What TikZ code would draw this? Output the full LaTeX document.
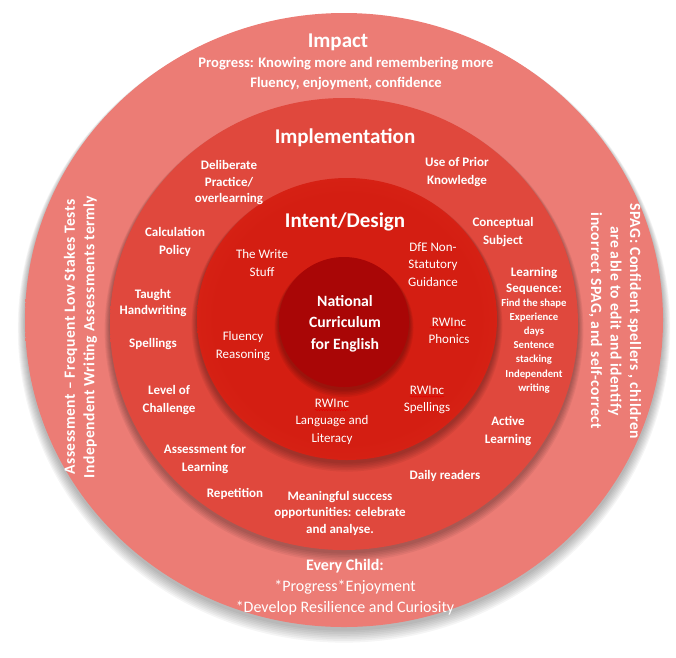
\documentclass[tikz,border=0pt]{standalone}
\usepackage{fontspec}
\setmainfont{Carlito}
\newfontfamily\sidefont[LetterSpace=3]{Carlito}
\usetikzlibrary{calc,decorations.pathmorphing}
\definecolor{outerin}{HTML}{EC7C75}
\definecolor{outerrim}{HTML}{E2706A}
\definecolor{midin}{HTML}{E0483D}
\definecolor{midout}{HTML}{E85E52}
\definecolor{midrim}{HTML}{DC5348}
\definecolor{innin}{HTML}{D41E12}
\definecolor{innout}{HTML}{E0301E}
\definecolor{innrim}{HTML}{D32616}
\definecolor{corein}{HTML}{A90606}
\definecolor{coreout}{HTML}{C81512}
\pgfdeclareradialshading{outershade}{\pgfpoint{0bp}{0bp}}{color(0bp)=(outerin); color(46bp)=(outerin); color(50bp)=(outerrim); color(100bp)=(outerrim)}
\pgfdeclareradialshading{midshade}{\pgfpoint{0bp}{0bp}}{color(0bp)=(midin); color(32bp)=(midin); color(40bp)=(midout); color(47bp)=(midout); color(50bp)=(midrim); color(100bp)=(midrim)}
\pgfdeclareradialshading{innshade}{\pgfpoint{0bp}{0bp}}{color(0bp)=(innin); color(22bp)=(innin); color(42bp)=(innout); color(47bp)=(innout); color(50bp)=(innrim); color(100bp)=(innrim)}
\pgfdeclareradialshading{coreshade}{\pgfpoint{0bp}{-8bp}}{color(0bp)=(corein); color(30bp)=(corein); color(50bp)=(coreout); color(100bp)=(coreout)}
\begin{document}
\begin{tikzpicture}[x=1pt,y=-1pt,
  lbl/.style={text=white, align=center, inner sep=0pt},
  ttl/.style={lbl, font=\fontsize{21}{25}\selectfont\bfseries},
  impl/.style={lbl, font=\fontsize{13}{17.5}\selectfont\bfseries},
  intent/.style={lbl, font=\fontsize{13}{17.5}\selectfont},
  small/.style={lbl, font=\fontsize{10.7}{14.1}\selectfont\bfseries},
  side/.style={lbl, font=\fontsize{15.6}{19.5}\sidefont\bfseries},
  shadow/.style={black, opacity=0.04},
  squig/.style={red!90!black, line width=0.5pt, decorate, decoration={snake, amplitude=0.7pt, segment length=2.6pt}}
]
\useasboundingbox (0,0) rectangle (676,657);
% outer ring
\foreach \k in {1,...,8}{
  \fill[shadow] (344,{322+0.8*\k}) ellipse [x radius={(319+0.9*\k)*1pt}, y radius={(307+0.9*\k)*1pt}];
}
\shade[shading=outershade] (344,320) ellipse [x radius=319pt, y radius=307pt];
% implementation ring
\foreach \k in {1,...,6}{
  \fill[shadow, opacity=0.05] (344,{326+0.7*\k}) ellipse [x radius={(234+0.9*\k)*1pt}, y radius={(226+0.9*\k)*1pt}];
}
\shade[shading=midshade] (344,324) ellipse [x radius=234pt, y radius=226pt];
% intent ring
\foreach \k in {1,...,6}{
  \fill[shadow, opacity=0.05] (347,{321+0.7*\k}) ellipse [x radius={(150+0.9*\k)*1pt}, y radius={(141+0.9*\k)*1pt}];
}
\shade[shading=innshade] (347,319) ellipse [x radius=150pt, y radius=141pt];
% core
\foreach \k in {1,...,5}{
  \fill[shadow, opacity=0.06] (344,{324+0.7*\k}) circle [radius={(65+0.9*\k)*1pt}];
}
\shade[shading=coreshade] (344,322) circle [radius=65pt];

% Impact
\node[ttl] (impact) at (338,42) {Impact};
\node[lbl, font=\fontsize{14.6}{20}\selectfont\bfseries] (impactsub) at (346,74) {Progress: Knowing more and remembering more\\Fluency, enjoyment, confidence};
\node[lbl, font=\fontsize{16}{21}\selectfont] (every) at (345,587) {\textbf{Every Child:}\\*Progress*Enjoyment\\*Develop Resilience and Curiosity};
\node[side, rotate=90] (assess) at (80.5,337) {Assessment – Frequent Low Stakes Tests\\Independent Writing Assessments termly};
\node[side, rotate=-90] (spag) at (615,321) {SPAG: Confident spellers , children\\are able to edit and identify\\incorrect SPAG, and self-correct};

% Implementation
\node[ttl] (impltitle) at (345,138) {Implementation};
\node[impl, font=\fontsize{13}{16.5}\selectfont\bfseries] (delib) at (229,183) {Deliberate\\Practice/\\overlearning};
\node[impl] (prior) at (457,172) {Use of Prior\\Knowledge};
\node[impl] (calc) at (175,242) {Calculation\\Policy};
\node[impl, font=\fontsize{13}{16}\selectfont\bfseries] (taught) at (153,303) {Taught\\Handwriting};
\node[impl] (spell) at (153,344) {Spellings};
\node[impl] (level) at (169,400) {Level of\\Challenge};
\node[impl] (afl) at (205,459) {Assessment for\\Learning};
\node[impl] (rep) at (235,494) {Repetition};
\node[impl, font=\fontsize{13}{16.5}\selectfont\bfseries] (meaning) at (340,513) {Meaningful success\\opportunities: celebrate\\and analyse.};
\node[impl] (daily) at (445,476) {Daily readers};
\node[impl] (active) at (508,431) {Active\\Learning};
\node[impl] (concept) at (503,232) {Conceptual\\Subject};
\node[impl, font=\fontsize{13}{16}\selectfont\bfseries] (lseq) at (534,281) {Learning\\Sequence:};
\node[small] (lsteps) at (534,346) {Find the shape\\Experience\\days\\Sentence\\stacking\\Independent\\writing};

% Intent
\node[ttl] (intenttitle) at (345,222) {Intent/Design};
\node[intent] (write) at (262,263) {The Write\\Stuff};
\node[intent] (dfe) at (433,264.5) {DfE Non-\\Statutory\\Guidance};
\node[intent] (phonics) at (449,331) {RWInc\\Phonics};
\node[intent] (fluency) at (243,346) {Fluency\\Reasoning};
\node[intent] (rwspell) at (427,400) {RWInc\\Spellings};
\node[intent] (rwlang) at (332,421.5) {RWInc\\Language and\\Literacy};
% spell-check underlines under RWInc
\draw[squig] ($(phonics.center)+(-19,-3.5)$) -- ($(phonics.center)+(15,-3.5)$);
\draw[squig] ($(rwspell.center)+(-17,-3.5)$) -- ($(rwspell.center)+(17,-3.5)$);
\draw[squig] ($(rwlang.center)+(-17,-11.5)$) -- ($(rwlang.center)+(17,-11.5)$);

% Core
\node[lbl, font=\fontsize{15.7}{21.5}\selectfont\bfseries] (nc) at (345,323.5) {National\\Curriculum\\for English};
\end{tikzpicture}
\end{document}
